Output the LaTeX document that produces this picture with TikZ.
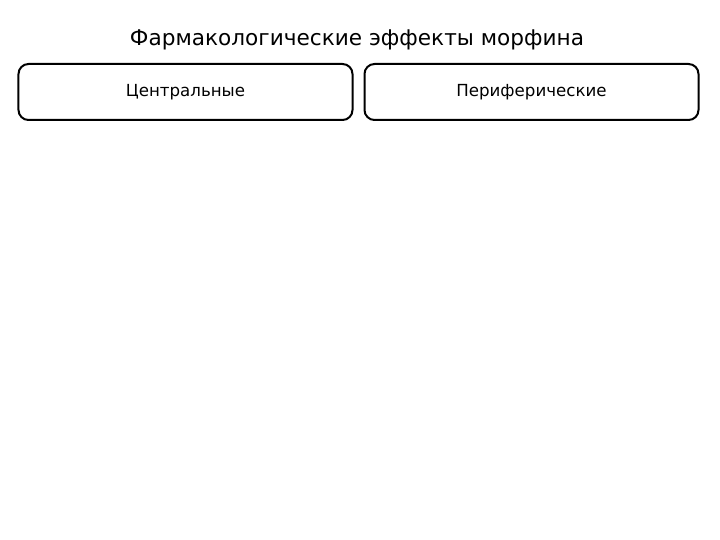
\documentclass[tikz,border=0pt]{standalone}
\usepackage{fontspec}
\setmainfont{DejaVu Sans}
\usetikzlibrary{positioning}

\begin{document}
\begin{tikzpicture}[x=1bp,y=-1bp,
    effect/.style={draw,line width=2bp,rounded corners=10bp,
      minimum width=334bp,minimum height=56bp,
      font=\fontsize{16.7}{20}\selectfont}]
  \useasboundingbox (0,0) rectangle (720,540);
  \node [anchor=base,font=\fontsize{21.7}{26}\selectfont] (title) at (357,46)
    {Фармакологические эффекты морфина};
  \node [effect] (central) at (185.5,92) {Центральные};
  \node [effect,right=10bp of central] (peripheral) {Периферические};
\end{tikzpicture}
\end{document}
